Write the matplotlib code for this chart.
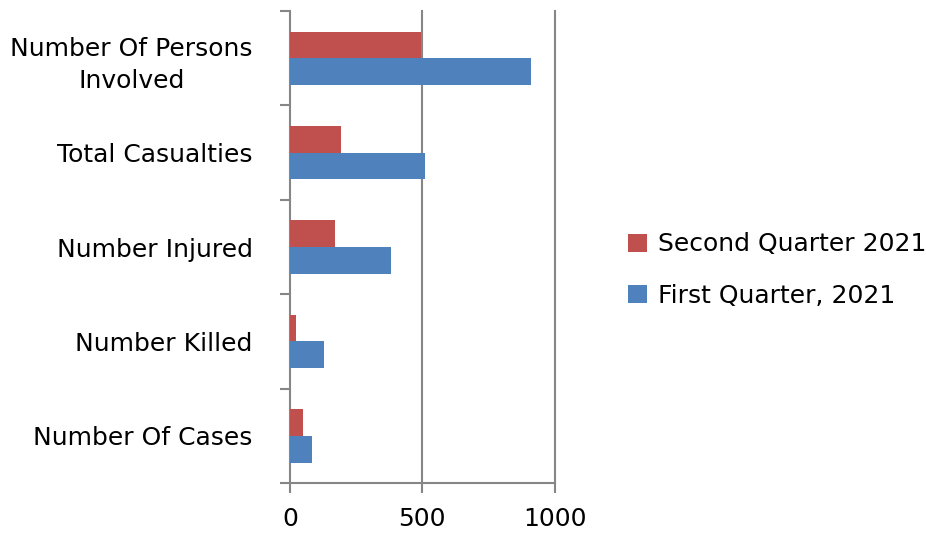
import matplotlib
matplotlib.use("Agg")
import matplotlib.pyplot as plt
import numpy as np

# bottom to top, as drawn
categories = ["Number Of Cases", "Number Killed", "Number Injured",
              "Total Casualties", "Number Of Persons\nInvolved"]
first_q = [82, 130, 380, 511, 909]
second_q = [50, 23, 171, 194, 494]
series_names = ["Second Quarter 2021", "First Quarter, 2021"]
x_ticks = [0, 500, 1000]

RED = "#C0504D"
BLUE = "#4F81BD"
GRID = "#868686"

plt.rcParams["font.family"] = ["DejaVu Sans"]
fig = plt.figure(figsize=(9.26, 5.35), dpi=100)
ax = fig.add_axes([0.3132, 0.0972, 0.2858, 0.8822])

y = np.arange(len(categories))
h = 0.283
ax.barh(y - h / 2, first_q, height=h, color=BLUE, label=series_names[1], zorder=3)
ax.barh(y + h / 2, second_q, height=h, color=RED, label=series_names[0], zorder=3)

ax.set_xlim(0, 1000)
ax.set_ylim(-0.5, len(categories) - 0.5)
ax.set_xticks(x_ticks)
ax.set_xticklabels([str(t) for t in x_ticks])

# category separators as ticks on the left
ax.set_yticks(np.arange(-0.5, len(categories), 1.0))
ax.set_yticklabels([])
ax.set_yticks(y, minor=True)
ax.set_yticklabels(categories, minor=True, multialignment="center", linespacing=1.45)
ax.tick_params(axis="y", which="major", length=7, width=1.5, color=GRID)
ax.tick_params(axis="y", which="minor", length=0, pad=27, labelsize=18)
ax.tick_params(axis="x", length=7, width=1.5, color=GRID, pad=10, labelsize=18)

for spine in ["top", "right"]:
    ax.spines[spine].set_visible(False)
for spine in ["left", "bottom"]:
    ax.spines[spine].set_color(GRID)
    ax.spines[spine].set_linewidth(1.5)
for t in x_ticks[1:]:
    ax.axvline(t, color=GRID, linewidth=1.5, zorder=1, clip_on=False)

handles, labels = ax.get_legend_handles_labels()
fig.legend(handles[::-1], labels[::-1], loc="center left", bbox_to_anchor=(0.678, 0.495),
           frameon=False, fontsize=18, handlelength=0.75, handleheight=0.75,
           handletextpad=0.45, labelspacing=1.1, borderpad=0, borderaxespad=0)

fig.savefig("out.png", dpi=100)
